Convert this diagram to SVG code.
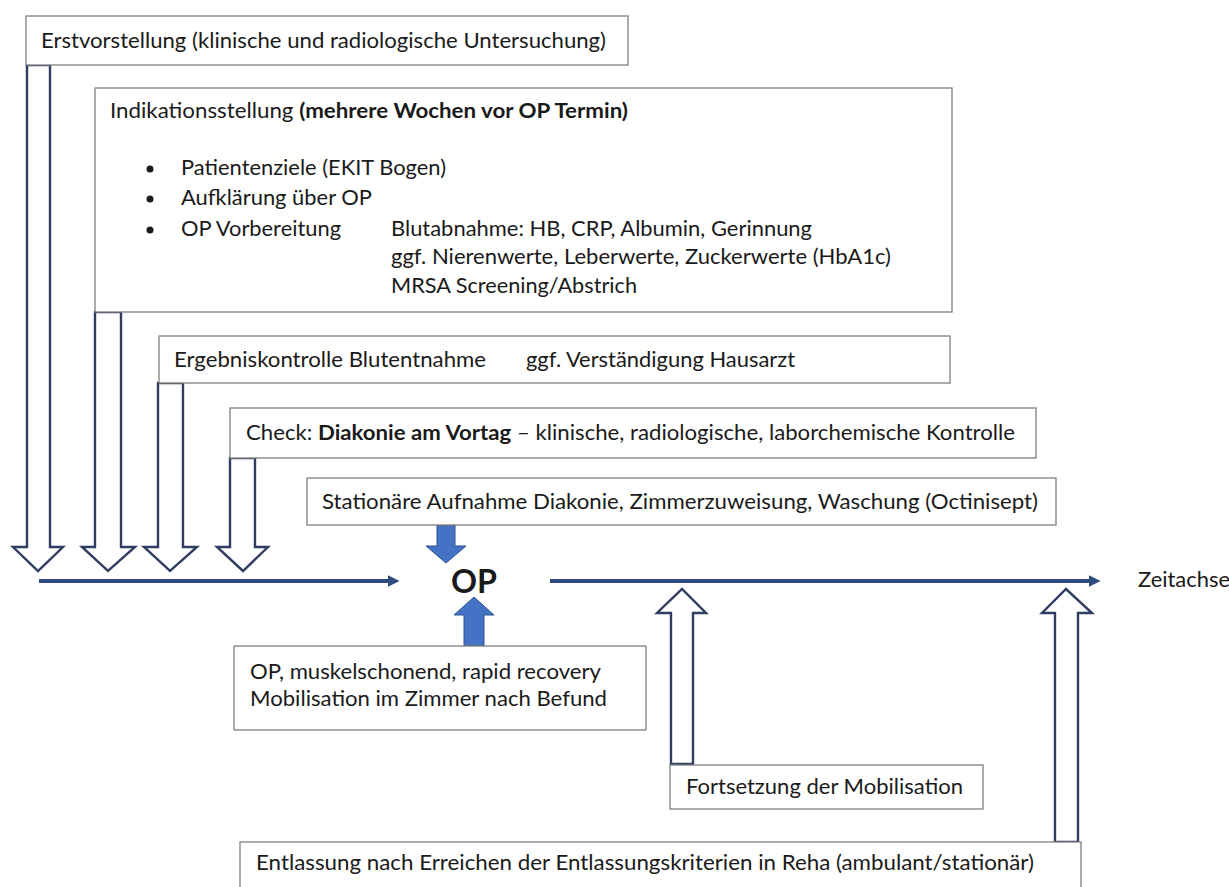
<svg xmlns="http://www.w3.org/2000/svg" width="1229" height="887" viewBox="0 0 1229 887">
<defs>
<style>
.box{fill:#fff;stroke:#7f7f7f;stroke-width:1.3}
.t{font-family:Lato,"Liberation Sans",sans-serif;font-size:20.5px;fill:#1a1a1a}
.b{font-weight:bold}
.oarrow{fill:#fff;stroke:#2f3e5f;stroke-width:2.4;stroke-linejoin:miter}
.barrow{fill:#4472c4;stroke:#2f528f;stroke-width:1}
.axis{stroke:#2f4b7c;stroke-width:4;fill:none}
</style>
<marker id="ah" viewBox="0 0 10 10" refX="2" refY="5" markerWidth="3" markerHeight="3" markerUnits="strokeWidth" orient="auto">
<path d="M0,0 L10,5 L0,10 Z" fill="#2f4b7c"/>
</marker>
</defs>
<rect width="1229" height="887" fill="#fff"/>

<g id="connectors">
<line class="axis" x1="39" y1="581" x2="390" y2="581" marker-end="url(#ah)"/>
<line class="axis" x1="550" y1="581" x2="1091" y2="581" marker-end="url(#ah)"/>
<polygon class="oarrow" points="27,65 50,65 50,547 63,547 38,571 13,547 27,547"/>
<polygon class="oarrow" points="95,312 121,312 121,547 135,547 108,571 82,547 95,547"/>
<polygon class="oarrow" points="158,383 183,383 183,547 197,547 170,571 144,547 158,547"/>
<polygon class="oarrow" points="230,458 255,458 255,547 268,547 243,571 217,547 230,547"/>
<polygon class="oarrow" points="671,764 693,764 693,613 706,613 682,589 657,613 671,613"/>
<polygon class="oarrow" points="1055,842 1078,842 1078,613 1092,613 1066,589 1042,613 1055,613"/>
<polygon class="barrow" points="437,525 455,525 455,546 466,546 446,563 426,546 437,546"/>
<polygon class="barrow" points="464,646 484,646 484,615 494,615 474,597 454,615 464,615"/>
</g>

<g id="erstvorstellung">
<rect class="box" x="26" y="16" width="602" height="49"/>
<text class="t" x="41" y="48" textLength="565" lengthAdjust="spacingAndGlyphs">Erstvorstellung (klinische und radiologische Untersuchung)</text>
</g>

<g id="indikation">
<rect class="box" x="95" y="88" width="857" height="224"/>
<text class="t" x="110" y="118" textLength="518" lengthAdjust="spacingAndGlyphs">Indikationsstellung <tspan class="b">(mehrere Wochen vor OP Termin)</tspan></text>
<circle cx="150" cy="169" r="3.5" fill="#1a1a1a"/>
<circle cx="150" cy="199" r="3.5" fill="#1a1a1a"/>
<circle cx="150" cy="230" r="3.5" fill="#1a1a1a"/>
<text class="t" x="181" y="175" textLength="265" lengthAdjust="spacingAndGlyphs">Patientenziele (EKIT Bogen)</text>
<text class="t" x="181" y="205" textLength="191" lengthAdjust="spacingAndGlyphs">Aufklärung über OP</text>
<text class="t" x="181" y="236" textLength="160" lengthAdjust="spacingAndGlyphs">OP Vorbereitung</text>
<text class="t" x="391" y="236" textLength="421" lengthAdjust="spacingAndGlyphs">Blutabnahme: HB, CRP, Albumin, Gerinnung</text>
<text class="t" x="391" y="264" textLength="500" lengthAdjust="spacingAndGlyphs">ggf. Nierenwerte, Leberwerte, Zuckerwerte (HbA1c)</text>
<text class="t" x="391" y="293" textLength="246" lengthAdjust="spacingAndGlyphs">MRSA Screening/Abstrich</text>
</g>

<g id="ergebniskontrolle">
<rect class="box" x="159" y="336" width="791" height="47"/>
<text class="t" x="174" y="367" textLength="312" lengthAdjust="spacingAndGlyphs">Ergebniskontrolle Blutentnahme</text>
<text class="t" x="526" y="367" textLength="269" lengthAdjust="spacingAndGlyphs">ggf. Verständigung Hausarzt</text>
</g>

<g id="check">
<rect class="box" x="230" y="408" width="806" height="50"/>
<text class="t" x="246" y="440" textLength="769" lengthAdjust="spacingAndGlyphs">Check: <tspan class="b">Diakonie am Vortag</tspan> – klinische, radiologische, laborchemische Kontrolle</text>
</g>

<g id="stationaer">
<rect class="box" x="307" y="478" width="749" height="47"/>
<text class="t" x="322" y="509" textLength="716" lengthAdjust="spacingAndGlyphs">Stationäre Aufnahme Diakonie, Zimmerzuweisung, Waschung (Octinisept)</text>
</g>

<g id="op">
<text class="t b" x="451" y="593" style="font-size:32px" textLength="46" lengthAdjust="spacingAndGlyphs">OP</text>
</g>

<g id="operation">
<rect class="box" x="234" y="646" width="412" height="84"/>
<text class="t" x="250" y="679" textLength="351" lengthAdjust="spacingAndGlyphs">OP, muskelschonend, rapid recovery</text>
<text class="t" x="250" y="706" textLength="357" lengthAdjust="spacingAndGlyphs">Mobilisation im Zimmer nach Befund</text>
</g>

<g id="fortsetzung">
<rect class="box" x="670" y="765" width="313" height="44"/>
<text class="t" x="686" y="794" textLength="277" lengthAdjust="spacingAndGlyphs">Fortsetzung der Mobilisation</text>
</g>

<g id="entlassung">
<rect class="box" x="240" y="842" width="841" height="60"/>
<text class="t" x="256" y="870" textLength="778" lengthAdjust="spacingAndGlyphs">Entlassung nach Erreichen der Entlassungskriterien in Reha (ambulant/stationär)</text>
</g>

<g id="zeitachse">
<text class="t" x="1138" y="587" textLength="92" lengthAdjust="spacingAndGlyphs">Zeitachse</text>
</g>
</svg>
